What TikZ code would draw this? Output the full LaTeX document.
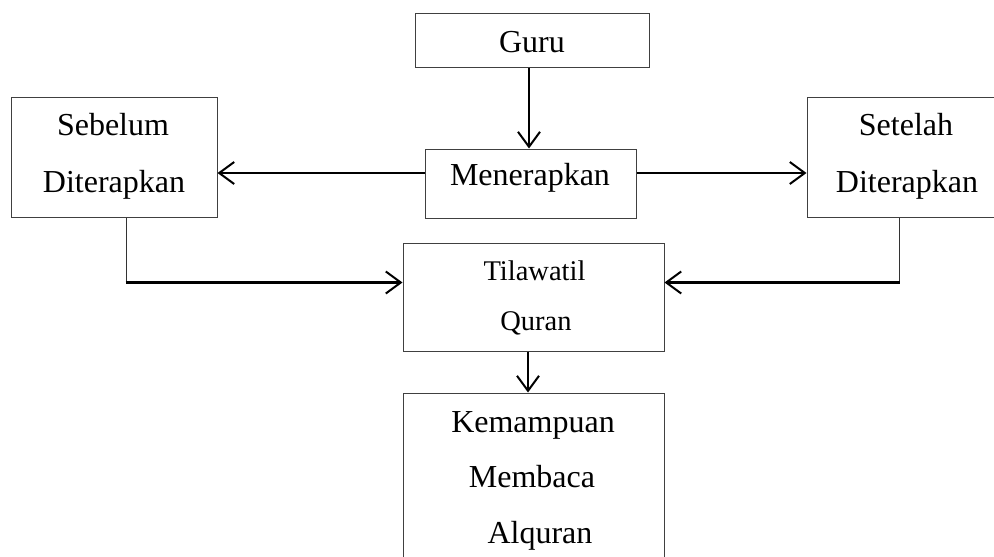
\documentclass[tikz,border=0pt]{standalone}
\usepackage{fontspec}
\setmainfont{Liberation Serif}
\usetikzlibrary{arrows.meta}
\begin{document}
\begin{tikzpicture}[x=1pt,y=-1pt,
  box/.style={draw=black!75,line width=1pt,rectangle,inner sep=0pt},
  txt/.style={anchor=base,inner sep=0pt,font=\fontsize{32}{38}\selectfont},
  txts/.style={anchor=base,inner sep=0pt,font=\fontsize{28.5}{34}\selectfont},
  conn/.style={line width=2.2pt,-{Straight Barb[length=15pt,width=22pt,line width=2pt]}},
  thinline/.style={line width=1pt,draw=black!80}]
\useasboundingbox (0,0) rectangle (994,557);
\clip (0,0) rectangle (994,557);
% boxes
\node[box,minimum width=234pt,minimum height=54pt] (guru) at (532,40) {};
\node[box,minimum width=211pt,minimum height=69pt] (men) at (530.5,183.5) {};
\node[box,minimum width=206pt,minimum height=120pt] (seb) at (114,157) {};
\node[box,minimum width=193pt,minimum height=120pt] (set) at (903.5,157) {};
\node[box,minimum width=261pt,minimum height=108pt] (til) at (533.5,297) {};
\node[box,minimum width=261pt,minimum height=180pt] (kem) at (533.5,483) {};
% texts
\node[txt] (tguru) at (532,52) {Guru};
\node[txt] (tmen) at (530,185) {Menerapkan};
\node[txt] (tseb1) at (113,135) {Sebelum};
\node[txt] (tseb2) at (114,192) {Diterapkan};
\node[txt] (tset1) at (906,135) {Setelah};
\node[txt] (tset2) at (907,192) {Diterapkan};
\node[txts] (ttil1) at (534.5,280) {Tilawatil};
\node[txts] (ttil2) at (536,330) {Quran};
\node[txt] (tkem1) at (533,432) {Kemampuan};
\node[txt] (tkem2) at (532,487) {Membaca};
\node[txt] (tkem3) at (540,543) {Alquran};
% connectors
\coordinate (menw) at ([yshift=10.5pt]men.west);
\coordinate (mene) at ([yshift=10.5pt]men.east);
\draw[conn] ([xshift=-3pt]guru.south) -- ([xshift=-1.5pt]men.north);
\draw[conn] (menw) -- (seb.east |- menw);
\draw[conn] (mene) -- (set.west |- mene);
\coordinate (sebc) at ([xshift=12pt]seb.south);
\coordinate (setc) at ([xshift=-4.5pt]set.south);
\coordinate (sebk) at ([yshift=-65pt]sebc);
\coordinate (setk) at ([yshift=-65pt]setc);
\draw[thinline] (sebc) -- (sebk);
\draw[thinline] (setc) -- (setk);
\draw[conn] ([xshift=-0.5pt]sebk) -- (til.west |- sebk);
\draw[conn] ([xshift=0.5pt]setk) -- (til.east |- setk);
\draw[conn] ([xshift=-5.5pt]til.south) -- ([xshift=-5.5pt]kem.north);
\end{tikzpicture}
\end{document}
